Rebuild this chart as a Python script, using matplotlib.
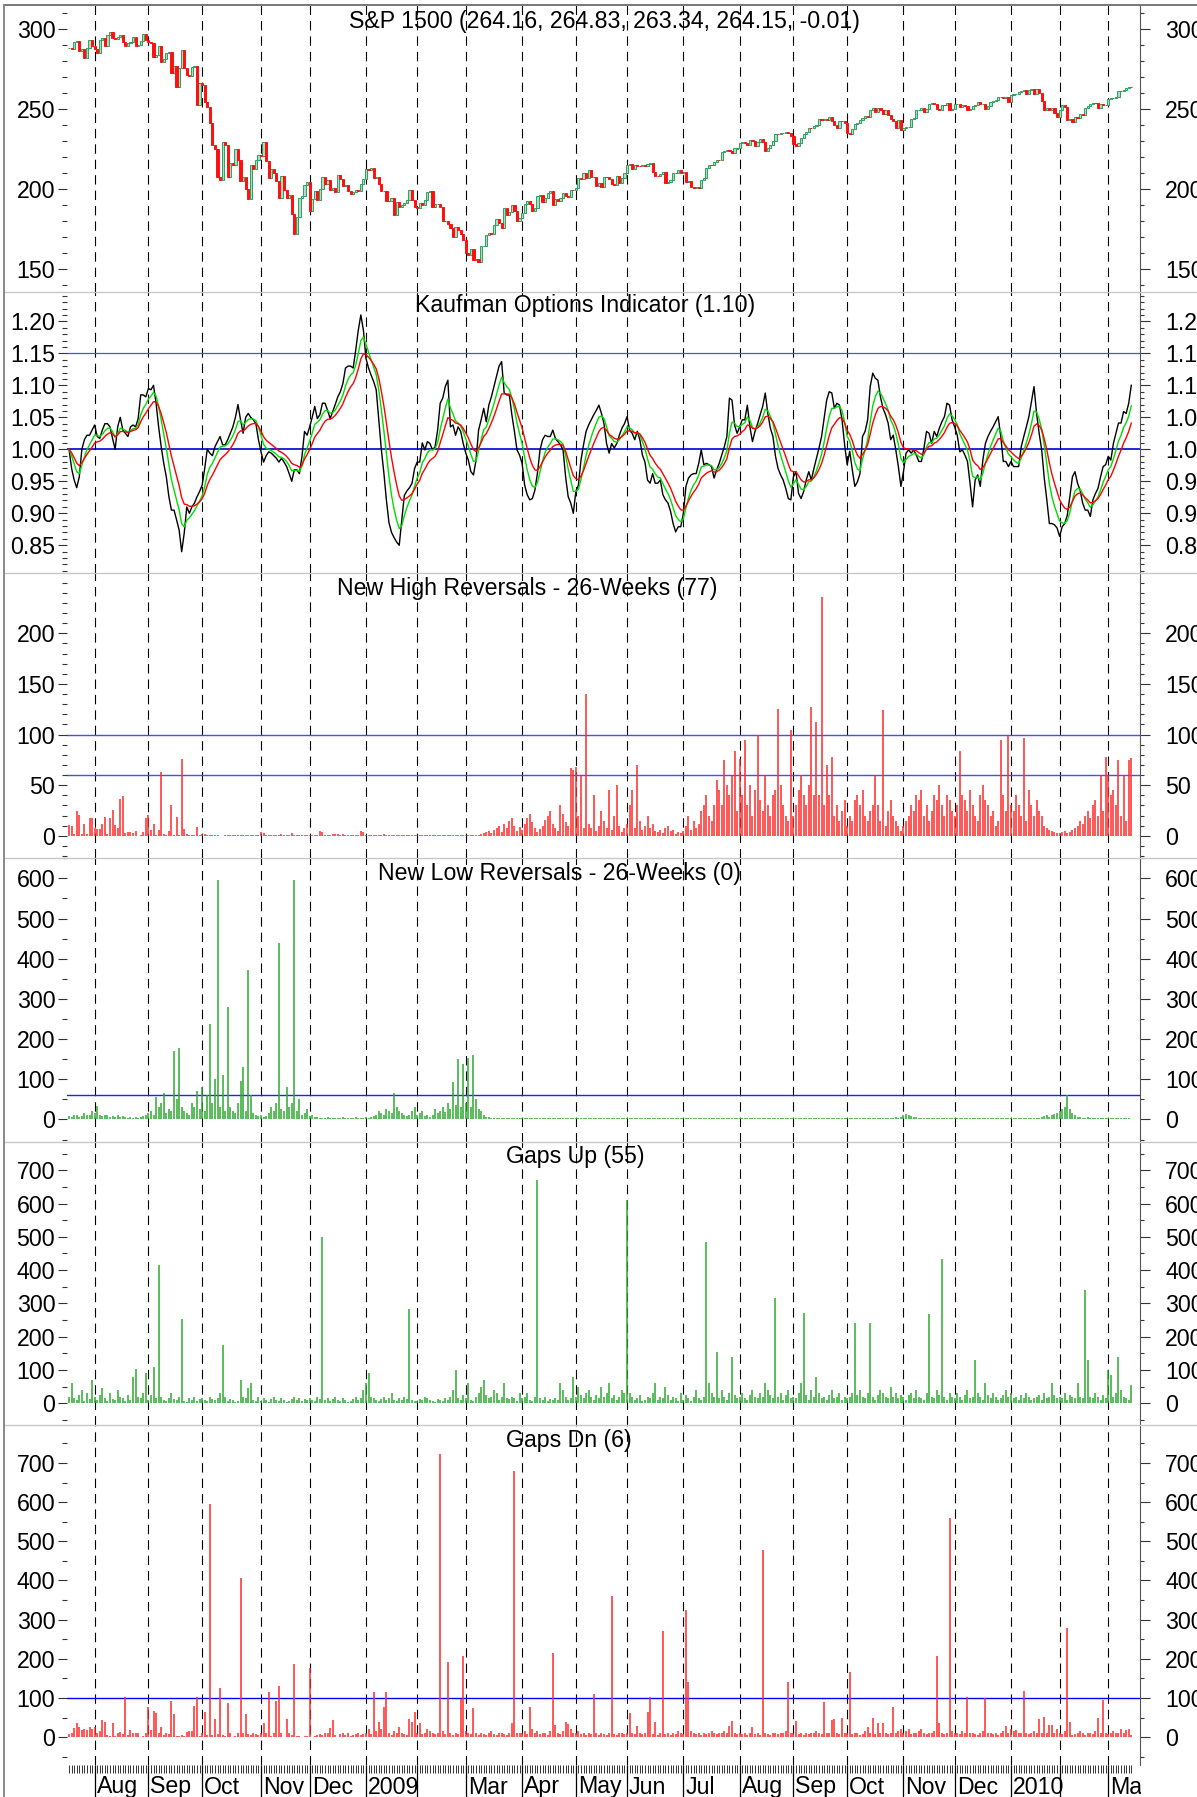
import numpy as np
import pandas as pd
import matplotlib
matplotlib.use("Agg")
import matplotlib.pyplot as plt
from matplotlib.ticker import FormatStrFormatter

plt.rcParams['font.family'] = ['Liberation Sans', 'DejaVu Sans']
plt.rcParams['lines.scale_dashes'] = False

# trading days per month, Jul 2008 (partial) .. Mar 2010 (partial)
month_days = [10, 21, 21, 23, 19, 22, 20, 19, 22, 21, 20, 22, 22, 21, 21, 22, 20, 22, 19, 19, 10]
month_labels = ['', 'Aug', 'Sep', 'Oct', 'Nov', 'Dec', '2009', '', 'Mar', 'Apr', 'May', 'Jun',
                'Jul', 'Aug', 'Sep', 'Oct', 'Nov', 'Dec', '2010', '', 'Mar']

# S&P 1500 daily close
close = [
    288.1, 287.9, 291.8, 293.0, 286.2, 287.4, 282.1, 288.6, 293.5, 289.6,
    288.0, 285.4, 293.6, 294.6, 289.3, 296.2, 298.3, 294.7, 293.8, 295.4, 296.6, 292.2, 289.4, 291.2, 292.0, 295.3, 289.5, 290.5, 292.9, 297.2, 293.1,
    291.9, 291.3, 282.6, 283.9, 289.7, 279.8, 281.5, 285.4, 286.0, 272.5, 277.3, 264.2, 275.7, 286.8, 275.8, 271.5, 271.0, 276.3, 277.2, 252.8, 266.5,
    265.3, 254.6, 251.2, 241.5, 227.6, 225.1, 207.9, 205.5, 229.3, 228.0, 207.4, 216.3, 214.9, 225.2, 218.2, 204.9, 207.5, 200.3, 194.0, 214.9, 212.5, 218.0, 221.4,
    220.8, 229.8, 217.7, 206.8, 212.7, 210.0, 205.4, 194.8, 208.2, 199.5, 194.4, 196.3, 184.3, 171.9, 182.8, 194.6, 195.9, 202.8, 204.8,
    186.5, 194.0, 199.0, 193.1, 200.2, 207.9, 203.1, 205.5, 199.6, 201.0, 198.5, 208.7, 206.7, 202.3, 202.9, 199.2, 197.2, 198.4, 199.4, 198.7, 203.5, 206.4,
    212.9, 211.9, 213.6, 207.2, 207.9, 203.4, 198.9, 199.2, 192.5, 192.8, 194.3, 184.0, 192.0, 189.1, 190.1, 191.2, 193.2, 199.7, 193.1, 188.7,
    188.6, 191.6, 190.2, 193.3, 198.5, 198.8, 189.0, 190.5, 190.8, 188.9, 180.3, 180.2, 178.0, 176.0, 169.9, 176.7, 174.8, 172.0, 168.0,
    160.1, 159.1, 162.9, 156.0, 156.2, 154.6, 164.4, 164.8, 171.5, 172.9, 172.3, 177.8, 181.5, 179.2, 175.6, 188.0, 184.2, 186.0, 190.3, 186.4, 180.0, 182.3,
    185.3, 190.7, 192.5, 190.9, 186.4, 188.5, 195.7, 196.2, 192.3, 194.7, 197.7, 198.7, 190.2, 194.2, 192.7, 194.7, 197.9, 195.9, 195.4, 199.6, 199.4,
    200.5, 207.3, 206.5, 210.1, 207.3, 212.3, 207.8, 207.6, 202.0, 204.1, 201.7, 207.9, 207.5, 206.4, 203.0, 202.7, 208.0, 204.1, 207.2, 210.0,
    215.4, 215.9, 212.9, 215.4, 214.8, 214.6, 215.3, 214.6, 215.9, 216.2, 211.1, 208.4, 208.1, 209.8, 210.5, 204.1, 204.5, 205.9, 210.3, 210.0, 211.9, 210.1,
    211.0, 204.8, 205.4, 201.3, 201.0, 201.7, 200.9, 205.9, 207.0, 213.1, 215.0, 214.9, 217.3, 218.1, 218.0, 223.1, 223.8, 224.4, 223.8, 222.8, 225.5, 225.6,
    229.1, 229.8, 229.1, 227.8, 230.9, 230.1, 227.2, 229.8, 231.4, 229.4, 223.9, 226.1, 227.7, 230.2, 234.5, 234.3, 234.9, 234.9, 235.6, 235.1, 233.2,
    228.1, 227.3, 229.2, 232.2, 234.3, 236.1, 238.6, 238.3, 239.8, 240.5, 244.2, 243.5, 244.1, 243.3, 244.9, 242.4, 240.1, 238.6, 242.9, 242.4, 241.5,
    235.3, 234.3, 237.7, 241.0, 241.7, 243.5, 244.8, 245.9, 245.2, 249.5, 250.6, 248.5, 250.9, 249.3, 247.1, 249.7, 246.7, 243.8, 243.0, 238.2, 243.6, 236.8,
    238.3, 238.9, 239.1, 243.7, 244.3, 249.8, 249.8, 251.0, 248.4, 249.9, 253.5, 253.7, 253.6, 250.2, 249.4, 252.8, 252.6, 253.8, 249.4, 250.3,
    253.4, 253.5, 251.3, 252.7, 252.1, 249.5, 250.4, 251.9, 252.8, 254.6, 253.2, 253.4, 250.5, 251.9, 254.6, 255.5, 256.1, 257.4, 257.7, 257.3, 257.4, 254.8,
    258.9, 259.7, 259.8, 260.9, 261.6, 262.1, 259.6, 261.8, 262.4, 259.6, 262.8, 260.0, 255.1, 249.5, 250.6, 249.6, 250.8, 247.8, 245.4,
    249.4, 252.7, 251.3, 243.5, 244.2, 242.0, 245.2, 244.6, 247.0, 246.3, 250.7, 251.8, 253.4, 254.0, 253.7, 250.7, 253.1, 252.6, 252.9,
    256.3, 256.9, 257.0, 257.9, 261.6, 261.5, 262.0, 263.1, 264.16, 264.15,
]

# Kaufman Options Indicator
koi = [
    1.0, 0.97, 0.952, 0.94, 0.957, 1.0, 1.015, 1.022, 1.022, 1.03,
    1.038, 1.02, 1.017, 1.03, 1.04, 1.04, 1.035, 1.017, 1.0, 1.035,
    1.05, 1.03, 1.025, 1.02, 1.035, 1.038, 1.035, 1.048, 1.085, 1.085,
    1.082, 1.095, 1.093, 1.10, 1.072, 1.035, 1.004, 0.978, 0.957, 0.926,
    0.905, 0.905, 0.89, 0.874, 0.84, 0.869, 0.91, 0.90, 0.91, 0.916,
    0.926, 0.934, 0.944, 0.97, 1.0, 0.994, 0.99, 1.004, 1.012, 1.02,
    1.007, 1.007, 1.015, 1.025, 1.035, 1.05, 1.07, 1.046, 1.025, 1.05,
    1.056, 1.05, 1.046, 1.04, 1.015, 0.996, 0.98, 0.99, 0.996, 0.994,
    0.99, 0.986, 0.98, 0.986, 0.98, 0.973, 0.962, 0.95, 0.968, 0.968,
    0.962, 0.989, 1.028, 1.022, 1.035, 1.05, 1.067, 1.048, 1.054, 1.072,
    1.072, 1.061, 1.048, 1.059, 1.07, 1.082, 1.09, 1.103, 1.127, 1.13,
    1.13, 1.127, 1.155, 1.186, 1.21, 1.186, 1.142, 1.127, 1.116, 1.106,
    1.093, 1.046, 1.0, 0.963, 0.92, 0.885, 0.87, 0.862, 0.855, 0.85,
    0.89, 0.928, 0.935, 0.94, 0.947, 0.97, 0.98, 0.98, 1.01, 0.999,
    1.012, 1.009, 0.999, 1.004, 1.03, 1.072, 1.08, 1.098, 1.108, 1.035,
    1.038, 1.022, 1.035, 1.028, 1.009, 0.994, 0.983, 0.965, 0.96, 0.983,
    1.03, 1.046, 1.064, 1.043, 1.069, 1.082, 1.098, 1.114, 1.13, 1.137,
    1.088, 1.085, 1.085, 1.054, 1.028, 0.999, 0.991, 0.978, 0.944, 0.929,
    0.921, 0.923, 0.936, 0.963, 0.999, 1.015, 1.022, 1.02, 1.02, 1.03,
    1.017, 1.012, 1.007, 0.999, 0.957, 0.926, 0.916, 0.90, 0.934, 0.944,
    0.983, 1.007, 1.028, 1.038, 1.046, 1.054, 1.061, 1.069, 1.056, 1.04,
    1.009, 0.994, 1.009, 1.002, 1.009, 1.022, 1.033, 1.04, 1.051, 1.03,
    1.025, 1.015, 1.028, 1.015, 0.991, 0.98, 0.952, 0.947, 0.962, 0.947,
    0.947, 0.952, 0.929, 0.921, 0.916, 0.903, 0.884, 0.871, 0.879, 0.879,
    0.90, 0.942, 0.955, 0.96, 0.962, 0.962, 0.978, 0.999, 0.976, 0.978,
    0.976, 0.973, 0.955, 0.968, 0.978, 0.991, 1.004, 1.02, 1.08, 1.077,
    1.038, 1.025, 1.035, 1.046, 1.046, 1.069, 1.035, 1.012, 1.028, 1.04,
    1.054, 1.067, 1.088, 1.056, 1.033, 1.02, 0.989, 0.97, 0.96, 0.952,
    0.939, 0.923, 0.921, 0.957, 0.965, 0.931, 0.923, 0.934, 0.952, 0.965,
    0.952, 0.97, 0.986, 1.002, 1.02, 1.048, 1.077, 1.09, 1.088, 1.064,
    1.072, 1.069, 1.046, 1.007, 0.976, 0.997, 0.968, 0.942, 0.949, 0.962,
    1.02, 1.028, 1.046, 1.098, 1.119, 1.111, 1.108, 1.082, 1.064, 1.054,
    1.041, 1.015, 1.022, 0.999, 0.973, 0.942, 0.965, 0.994, 0.999, 0.994,
    0.999, 0.991, 0.981, 0.981, 1.002, 1.028, 1.025, 1.009, 1.028, 1.02,
    1.033, 1.043, 1.051, 1.072, 1.069, 1.046, 1.035, 1.022, 0.996, 0.999,
    0.991, 0.981, 0.947, 0.91, 0.952, 0.96, 0.942, 0.983, 1.009, 1.02,
    1.028, 1.035, 1.043, 1.051, 1.02, 0.981, 0.981, 0.973, 0.981, 0.973,
    0.973, 0.973, 1.004, 1.02, 1.035, 1.051, 1.074, 1.098, 1.056, 1.025,
    0.999, 0.955, 0.921, 0.884, 0.884, 0.882, 0.877, 0.864, 0.879, 0.884,
    0.897, 0.926, 0.957, 0.965, 0.947, 0.936, 0.916, 0.905, 0.905, 0.895,
    0.921, 0.931, 0.939, 0.957, 0.973, 0.976, 0.989, 0.983, 1.009, 1.025,
    1.041, 1.041, 1.059, 1.056, 1.072, 1.10,
]

new_high = [
    10.5, 10, 2, 25, 21, 2, 11.5, 2, 18, 18,
    8, 6.5, 7, 11.5, 19, 1.5, 18, 26, 10.5, 8, 36, 39.5, 3, 3.6, 3.3, 3, 4.6, 0.3, 1.3, 4, 18,
    21, 6, 12, 1, 5.6, 63, 2, 1, 4.6, 30, 1, 18.4, 1, 76, 7, 2, 1, 0.5, 0.5, 8.6, 1,
    2, 2, 1, 1, 0.5, 0.5, 0.5, 0, 0, 0.5, 0.5, 0.5, 0.5, 0.5, 1, 1, 0.5, 0.5, 0.5, 0.5, 0.5, 1, 1,
    4, 3, 0.5, 0.5, 1, 1, 0.5, 1, 1.5, 0.5, 1, 0.5, 2.5, 0.5, 0.5, 1, 1, 0.5, 0.5,
    1, 1, 0.5, 1, 5, 4, 1, 1, 0.5, 1.5, 1.5, 2, 1, 1.5, 1, 0.5, 1, 0.5, 1, 1, 5, 4,
    1, 1, 1, 0.5, 0.5, 1, 1, 2, 1, 0.5, 0.5, 0.5, 0.5, 0.5, 0.5, 1, 0.5, 0.5, 0.5, 1,
    0.5, 1, 1, 1, 0.5, 1, 0.5, 0.5, 0.5, 0.5, 0.5, 0.5, 0.5, 0.5, 0.5, 0.5, 0.5, 0.5, 0.5,
    0.5, 1, 0.5, 0.5, 1, 0.5, 2, 3, 4, 5, 3, 6, 8, 10, 4, 12, 8, 15, 18, 10, 5, 9,
    6, 12, 18, 22, 14, 8, 4, 7, 10, 16, 20, 25, 12, 8, 5, 30, 22, 14, 10, 67, 65,
    68, 20, 60, 8, 140, 12, 8, 40, 5, 10, 25, 15, 8, 45, 6, 20, 50, 10, 4, 8,
    12, 30, 45, 8, 70, 15, 6, 10, 20, 8, 12, 5, 4, 6, 3, 8, 10, 5, 6, 2, 4, 3,
    5, 10, 20, 6, 15, 8, 12, 25, 30, 40, 20, 15, 30, 55, 45, 30, 75, 50, 40, 60, 84, 25,
    76, 40, 95, 30, 50, 20, 45, 100, 35, 25, 60, 30, 20, 40, 45, 125, 50, 30, 20, 15, 105,
    20, 30, 45, 60, 40, 30, 50, 127, 40, 112, 40, 236, 30, 70, 40, 78, 20, 30, 15, 25, 35,
    10, 20, 15, 35, 40, 30, 45, 20, 15, 25, 30, 60, 30, 15, 124, 10, 25, 35, 20, 15, 10, 5,
    10, 15, 20, 30, 25, 40, 35, 45, 20, 30, 15, 25, 40, 35, 50, 30, 20, 40, 35, 25,
    20, 30, 84, 40, 35, 25, 45, 30, 20, 15, 40, 50, 35, 30, 20, 25, 10, 15, 95, 40, 25, 100,
    30, 25, 40, 30, 20, 97, 15, 45, 30, 20, 35, 25, 20, 10, 8, 6, 5, 4, 3,
    3, 4, 5, 3, 4, 6, 8, 10, 15, 12, 20, 25, 18, 30, 35, 20, 60, 25, 78,
    60, 40, 45, 30, 75, 20, 60, 15, 75, 77,
]

new_low = [
    8, 6, 10, 12, 5, 8, 15, 10, 12, 20,
    15, 34, 10, 8, 12, 10, 6, 8, 5, 10, 6, 8, 5, 4, 6, 3, 5, 4, 6, 8, 10,
    15, 20, 10, 57, 30, 40, 65, 15, 25, 20, 171, 50, 177, 30, 20, 15, 10, 40, 30, 70, 25,
    80, 20, 60, 237, 40, 100, 597, 30, 110, 20, 280, 30, 20, 15, 40, 95, 130, 20, 371, 60, 15, 10, 8,
    10, 5, 8, 15, 30, 20, 40, 440, 25, 20, 80, 30, 40, 597, 20, 50, 10, 15, 25,
    8, 12, 6, 5, 4, 3, 4, 5, 3, 4, 3, 3, 4, 5, 4, 3, 4, 3, 5, 4, 3, 4,
    5, 4, 6, 8, 10, 20, 15, 12, 25, 20, 15, 65, 30, 20, 15, 10, 8, 12, 20, 30,
    10, 15, 20, 8, 12, 5, 10, 25, 15, 20, 30, 18, 40, 25, 94, 35, 150, 30, 137,
    40, 154, 30, 160, 50, 25, 20, 10, 6, 5, 4, 4, 3, 3, 4, 3, 3, 4, 3, 3, 4, 3,
    3, 3, 4, 3, 3, 3, 4, 3, 3, 3, 3, 4, 3, 3, 3, 3, 3, 4, 3, 3, 3,
    3, 3, 3, 4, 3, 3, 3, 3, 4, 3, 3, 3, 3, 3, 4, 3, 3, 3, 3, 3,
    3, 4, 3, 3, 3, 3, 3, 4, 3, 3, 3, 3, 4, 3, 3, 3, 3, 3, 4, 3, 3, 3,
    4, 3, 3, 3, 4, 3, 3, 3, 3, 3, 4, 3, 3, 3, 3, 3, 3, 4, 3, 3, 3, 3,
    3, 3, 4, 3, 3, 3, 3, 3, 4, 3, 3, 3, 3, 4, 3, 3, 3, 3, 3, 4, 3,
    3, 4, 3, 3, 3, 3, 3, 4, 3, 3, 3, 3, 3, 4, 3, 3, 3, 3, 4, 3, 3,
    4, 3, 3, 3, 3, 4, 3, 3, 3, 3, 3, 4, 3, 3, 3, 3, 4, 3, 3, 5, 4, 6,
    10, 14, 12, 8, 6, 5, 4, 4, 3, 3, 4, 3, 3, 3, 4, 3, 3, 3, 4, 3,
    3, 4, 3, 3, 3, 4, 3, 3, 3, 4, 3, 3, 3, 3, 4, 3, 3, 3, 3, 4, 3, 3,
    3, 3, 4, 3, 3, 3, 3, 4, 3, 3, 3, 4, 5, 8, 10, 7, 12, 14, 17,
    20, 25, 30, 60, 25, 15, 10, 6, 5, 4, 4, 5, 4, 4, 3, 4, 4, 3, 4,
    4, 3, 4, 3, 3, 4, 3, 3, 3, 0,
]

gaps_up = [
    20, 60, 15, 10, 25, 40, 8, 30, 12, 70,
    20, 10, 25, 45, 15, 8, 30, 12, 10, 40, 20, 15, 8, 25, 10, 80, 103, 20, 15, 30, 90,
    10, 25, 110, 15, 414, 20, 10, 8, 15, 30, 12, 10, 20, 252, 8, 5, 15, 10, 20, 8, 12,
    15, 10, 8, 20, 12, 10, 15, 30, 176, 20, 8, 12, 10, 5, 8, 70, 20, 15, 45, 60, 10, 8, 20,
    8, 15, 10, 5, 12, 20, 10, 8, 15, 10, 5, 8, 12, 20, 10, 15, 8, 12, 10,
    15, 10, 8, 20, 12, 500, 10, 15, 8, 12, 20, 10, 8, 15, 10, 5, 8, 12, 20, 10, 15, 40,
    60, 90, 20, 15, 10, 8, 12, 20, 10, 15, 30, 10, 8, 15, 10, 20, 12, 283, 10, 8,
    8, 12, 10, 20, 15, 10, 8, 5, 12, 10, 8, 15, 10, 20, 40, 100, 15, 10, 25,
    15, 60, 10, 8, 20, 30, 50, 70, 25, 15, 20, 40, 30, 10, 20, 60, 15, 12, 20, 15, 8, 30,
    15, 20, 30, 10, 8, 20, 672, 15, 10, 20, 8, 12, 10, 15, 10, 60, 40, 20, 10, 15, 80,
    20, 50, 25, 15, 30, 40, 20, 10, 25, 15, 50, 20, 30, 60, 15, 25, 10, 20, 40, 30,
    610, 30, 20, 10, 15, 25, 8, 10, 20, 15, 30, 60, 10, 20, 15, 50, 25, 10, 20, 15, 8, 30,
    10, 25, 15, 8, 20, 40, 15, 10, 20, 486, 60, 30, 20, 155, 15, 40, 20, 10, 30, 138, 25, 15,
    20, 30, 15, 10, 25, 40, 20, 15, 30, 20, 60, 40, 25, 15, 317, 20, 30, 10, 25, 40, 15,
    20, 15, 30, 60, 272, 25, 10, 40, 20, 80, 30, 15, 20, 10, 25, 40, 15, 20, 30, 10, 20,
    15, 20, 30, 240, 25, 40, 20, 15, 30, 240, 20, 10, 25, 40, 30, 20, 15, 50, 20, 30, 15, 25,
    20, 10, 25, 30, 15, 40, 20, 15, 10, 30, 269, 20, 15, 40, 25, 434, 20, 10, 30, 20,
    15, 30, 20, 10, 25, 40, 15, 20, 130, 30, 20, 10, 60, 25, 15, 30, 20, 10, 15, 25, 40, 20,
    30, 15, 20, 10, 25, 15, 30, 20, 10, 15, 20, 25, 10, 30, 15, 20, 60, 25, 15,
    20, 15, 30, 10, 25, 20, 15, 60, 20, 15, 341, 130, 20, 15, 30, 20, 10, 25, 15,
    100, 85, 20, 30, 140, 40, 20, 15, 10, 55,
]

gaps_dn = [
    8, 12, 23, 36, 25, 19, 20, 19, 25, 20,
    27, 10, 16, 44, 39, 5, 3, 36, 3, 10, 14, 8, 102, 6, 19, 10, 12, 12, 2, 3, 10,
    78, 19, 68, 63, 10, 27, 6, 12, 8, 93, 59, 3, 3, 6, 3, 14, 17, 16, 80, 102, 3,
    10, 65, 6, 594, 6, 46, 8, 125, 6, 3, 87, 10, 2, 3, 12, 407, 12, 59, 8, 6, 10, 8, 6,
    10, 37, 10, 116, 3, 10, 93, 131, 10, 2, 46, 10, 6, 186, 3, 3, 2, 3, 3,
    177, 2, 3, 6, 8, 6, 10, 10, 23, 44, 6, 2, 8, 10, 6, 12, 4, 6, 8, 10, 6, 8,
    10, 20, 8, 115, 15, 40, 20, 78, 115, 10, 6, 15, 12, 27, 10, 8, 6, 46, 40, 65,
    10, 37, 8, 12, 20, 15, 10, 8, 12, 723, 15, 8, 193, 10, 6, 12, 8, 97, 208,
    15, 10, 8, 74, 10, 6, 12, 8, 6, 10, 15, 8, 6, 10, 12, 8, 6, 10, 36, 680, 12, 10,
    10, 15, 8, 78, 20, 10, 15, 8, 12, 10, 6, 15, 214, 31, 10, 8, 15, 40, 35, 20, 12,
    10, 15, 8, 12, 6, 10, 8, 110, 10, 6, 12, 8, 6, 10, 360, 8, 6, 10, 12, 8,
    12, 63, 10, 8, 29, 10, 8, 12, 64, 102, 8, 39, 6, 10, 270, 8, 10, 6, 12, 8, 15, 10,
    8, 325, 140, 17, 10, 8, 12, 6, 10, 8, 12, 15, 10, 8, 12, 10, 15, 12, 29, 42, 10, 8,
    10, 8, 12, 6, 10, 25, 8, 10, 6, 477, 10, 8, 6, 12, 10, 8, 10, 12, 15, 142, 10,
    10, 42, 8, 10, 6, 12, 8, 10, 12, 15, 10, 8, 91, 10, 12, 44, 46, 10, 8, 48, 12,
    10, 167, 8, 12, 10, 6, 8, 15, 27, 10, 48, 8, 37, 10, 36, 12, 8, 10, 78, 10, 15, 20,
    10, 15, 20, 8, 12, 10, 15, 20, 10, 8, 12, 10, 15, 208, 36, 10, 8, 12, 560, 15,
    12, 10, 8, 15, 10, 104, 12, 10, 8, 6, 10, 15, 99, 10, 12, 8, 10, 6, 12, 15, 29, 10,
    20, 15, 18, 12, 10, 119, 10, 8, 12, 15, 10, 46, 12, 53, 10, 31, 31, 10, 20,
    10, 8, 15, 278, 38, 5, 8, 12, 15, 10, 6, 12, 10, 8, 15, 48, 10, 95, 12,
    8, 12, 15, 10, 12, 20, 10, 18, 20, 6,
]

n = sum(month_days)
for name, s in [('close', close), ('koi', koi), ('new_high', new_high), ('new_low', new_low),
                ('gaps_up', gaps_up), ('gaps_dn', gaps_dn)]:
    assert len(s) == n, (name, len(s), n)

x = np.arange(n)
close = np.array(close)
opens = np.r_[close[0], close[:-1]]
koi_s = pd.Series(koi)
koi_fast = koi_s.ewm(span=5, adjust=False).mean()
koi_slow = koi_s.ewm(span=10, adjust=False).mean()
month_start = np.cumsum([0] + month_days[:-1])
seps = month_start[1:]

W, H = 1197, 1797
fig = plt.figure(figsize=(W / 100, H / 100), dpi=100)
LEFT, RIGHT = 67, 1140.5
XLIM = (-0.8, 418.6)
FS = 16.7


def px_axes(top, bottom):
    return fig.add_axes([LEFT / W, 1 - bottom / H, (RIGHT - LEFT) / W, (bottom - top) / H])


def panel(top, bottom, ylim, major, minor, fmt):
    ax = px_axes(top, bottom)
    ax.set_xlim(*XLIM)
    ax.set_ylim(*ylim)
    ax.set_xticks([])
    for s in ax.spines.values():
        s.set_visible(False)
    ax.set_yticks(major)
    ax.set_yticks(minor, minor=True)
    ax.yaxis.set_major_formatter(FormatStrFormatter(fmt))
    ax.tick_params(axis='y', which='major', left=True, right=False, length=6.5, width=0.8,
                   color='#333333', labelsize=FS, pad=2)
    ax.tick_params(axis='y', which='minor', left=True, right=False, length=3.6, width=0.8, color='#333333')
    tw = ax.twinx()
    tw.set_ylim(*ylim)
    for k, s in tw.spines.items():
        s.set_visible(k == 'right')
    tw.spines['right'].set_color('#555555')
    tw.set_yticks(major)
    tw.set_yticks(minor, minor=True)
    tw.yaxis.set_major_formatter(FormatStrFormatter(fmt))
    tw.tick_params(axis='y', which='major', right=True, length=7.2, width=0.8, color='#333333',
                   labelsize=FS, pad=10.5)
    tw.tick_params(axis='y', which='minor', right=True, length=3.2, width=0.8, color='#333333')
    for sx in seps:
        ax.axvline(sx, color='black', lw=0.8, ls=(0, (6.8, 4.3)), zorder=0)
    return ax


# price panel
ax1 = panel(5, 292, (135.8, 315.2), np.arange(150, 301, 50), np.arange(140, 316, 10), '%d')
up = close >= opens
ax1.bar(x[up], (close - opens)[up], bottom=opens[up], width=0.85, color='#a8dfc0',
        edgecolor='#2f9f5f', linewidth=0.7, zorder=2)
ax1.bar(x[~up], (close - opens)[~up], bottom=opens[~up], width=0.85, color='#ff1010',
        edgecolor='#ff1010', linewidth=0.7, zorder=2)

# Kaufman options indicator
ax2 = panel(292, 573, (0.8067, 1.2458), np.arange(0.85, 1.201, 0.05), np.arange(0.81, 1.246, 0.01), '%.2f')
ax2.axhline(1.15, color='#4a4aff', lw=0.9, zorder=1)
ax2.axhline(1.00, color='#0000d0', lw=1.2, zorder=1)
ax2.plot(x, koi, color='black', lw=1.0, zorder=3)
ax2.plot(x, koi_fast, color='#00dd00', lw=1.0, zorder=4)
ax2.plot(x, koi_slow, color='#ff0000', lw=1.0, zorder=5)

# new high reversals
ax3 = panel(573, 858, (-21.9, 259.6), np.arange(0, 201, 50), np.arange(-20, 260, 10), '%d')
ax3.axhline(100, color='#4a4aff', lw=1.0, zorder=1)
ax3.axhline(60, color='#4a4aff', lw=1.0, zorder=1)
ax3.vlines(x, 0, new_high, color='#ff2a2a', lw=1.1, zorder=2)

# new low reversals
ax4 = panel(858, 1142, (-56.2, 650.6), np.arange(0, 601, 100), np.arange(-50, 651, 50), '%d')
ax4.axhline(60, color='#2020ff', lw=1.0, zorder=1)
ax4.vlines(x, 0, new_low, color='#2eaa2e', lw=1.1, zorder=2)

# gaps up
ax5 = panel(1142, 1425, (-65.2, 784.9), np.arange(0, 701, 100), np.arange(-50, 785, 50), '%d')
ax5.vlines(x, 0, gaps_up, color='#2eaa2e', lw=1.1, zorder=2)

# gaps down
ax6 = panel(1425, 1765, (-70.7, 796.7), np.arange(0, 701, 100), np.arange(-50, 797, 50), '%d')
ax6.axhline(100, color='#0000ff', lw=1.0, zorder=1)
ax6.vlines(x, 0, gaps_dn, color='#ff2a2a', lw=1.1, zorder=2)

# date strip
axs = px_axes(1765, 1800)
axs.set_xlim(*XLIM)
axs.set_ylim(35, 0)
axs.axis('off')
axs.vlines(x, 0, 8, color='#333333', lw=0.7)
axs.vlines(seps, 0, 35, color='black', lw=0.9)
for sx, lab in zip(month_start, month_labels):
    if lab:
        axs.text(sx + 0.8, 10.5, lab, fontsize=FS, ha='left', va='top', clip_on=True)

# panel titles
titles = [
    (604, 21.5, 'S&P 1500 (264.16, 264.83, 263.34, 264.15, -0.01)'),
    (585, 305.5, 'Kaufman Options Indicator (1.10)'),
    (527.5, 588.5, 'New High Reversals - 26-Weeks (77)'),
    (559, 873, 'New Low Reversals - 26-Weeks (0)'),
    (575, 1157, 'Gaps Up (55)'),
    (569, 1441, 'Gaps Dn (6)'),
]
for cx, cy, t in titles:
    fig.text(cx / W, 1 - cy / H, t, ha='center', va='center', fontsize=FS)

# frame and panel separators
for y in [292, 573, 858, 1142, 1425]:
    fig.add_artist(plt.Line2D([4 / W, 1], [1 - y / H, 1 - y / H], color='#c8c8c8', lw=1.0))
fig.add_artist(plt.Line2D([4 / W, 1], [1 - 5 / H, 1 - 5 / H], color='#777777', lw=1.4))
fig.add_artist(plt.Line2D([4 / W, 4 / W], [0, 1 - 5 / H], color='#8a8a8a', lw=1.4))

fig.savefig('out.png', dpi=100)
